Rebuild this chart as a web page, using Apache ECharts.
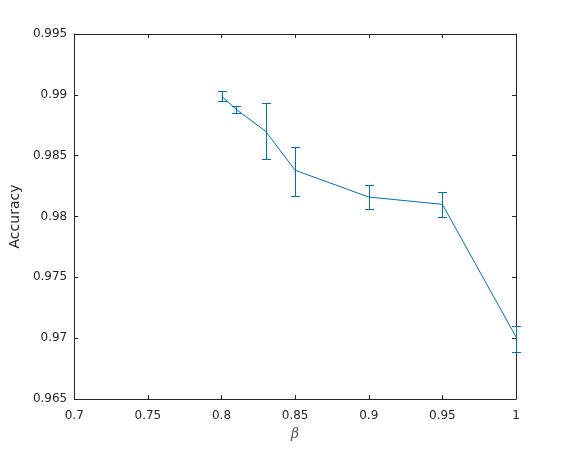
<!DOCTYPE html>
<html>
<head>
<meta charset="utf-8">
<script src="https://cdn.jsdelivr.net/npm/echarts@6/dist/echarts.min.js"></script>
<style>
  html, body { margin: 0; padding: 0; background: #fff; }
  #chart { width: 570px; height: 450px; }
</style>
</head>
<body>
<div id="chart"></div>
<script>
// beta values and measured accuracy with error ranges
const betas = [0.8, 0.81, 0.83, 0.85, 0.9, 0.95, 1.0];
const accuracy = [0.9899, 0.9888, 0.9870, 0.9838, 0.9816, 0.9810, 0.9701];
const errLow = [0.9895, 0.9885, 0.9847, 0.9817, 0.9806, 0.9800, 0.9689];
const errHigh = [0.9903, 0.9891, 0.9893, 0.9857, 0.9826, 0.9820, 0.9710];

const lineColor = '#0072BD';
const textColor = '#262626';

const chart = echarts.init(document.getElementById('chart'));

const fmt = v => String(+v.toFixed(3));

const baseX = {
    type: 'value',
    min: 0.7,
    max: 1,
    interval: 0.05,
    splitLine: { show: false },
    axisLine: { show: true, onZero: false, lineStyle: { color: textColor, width: 1 } },
    axisTick: { show: true, inside: true, length: 4, lineStyle: { color: textColor } },
};
const baseY = {
    type: 'value',
    min: 0.965,
    max: 0.995,
    interval: 0.005,
    splitLine: { show: false },
    axisLine: { show: true, onZero: false, lineStyle: { color: textColor, width: 1 } },
    axisTick: { show: true, inside: true, length: 4, lineStyle: { color: textColor } },
};

const option = {
    animation: false,
    backgroundColor: '#fff',
    grid: { left: 74, right: 54, top: 34, bottom: 51 },
    xAxis: [
        Object.assign({}, baseX, {
            position: 'bottom',
            name: 'β',
            nameLocation: 'middle',
            nameGap: 28,
            nameTextStyle: { color: '#555', fontSize: 14, fontStyle: 'italic', fontFamily: 'DejaVu Serif' },
            axisLabel: { color: textColor, fontSize: 12, fontFamily: 'DejaVu Sans', margin: 11, formatter: fmt },
        }),
        Object.assign({}, baseX, {
            position: 'top',
            axisLabel: { show: false },
        }),
    ],
    yAxis: [
        Object.assign({}, baseY, {
            position: 'left',
            name: 'Accuracy',
            nameLocation: 'middle',
            nameGap: 43,
            nameTextStyle: { color: textColor, fontSize: 14, fontFamily: 'DejaVu Sans' },
            axisLabel: { color: textColor, fontSize: 12, fontFamily: 'DejaVu Sans', margin: 7, formatter: fmt },
        }),
        Object.assign({}, baseY, {
            position: 'right',
            axisLabel: { show: false },
        }),
    ],
    series: [
        {
            type: 'line',
            data: betas.map((b, i) => [b, accuracy[i]]),
            showSymbol: false,
            lineStyle: { color: lineColor, width: 1 },
            itemStyle: { color: lineColor },
            z: 3,
        },
        {
            type: 'custom',
            clip: false,
            data: betas.map((b, i) => [b, errLow[i], errHigh[i]]),
            renderItem: function (params, api) {
                const lo = api.coord([api.value(0), api.value(1)]);
                const hi = api.coord([api.value(0), api.value(2)]);
                const x = Math.round(lo[0]) + 0.5;
                const yLo = Math.round(lo[1]) + 0.5;
                const yHi = Math.round(hi[1]) + 0.5;
                const w = 4.5;
                const style = { stroke: lineColor, lineWidth: 1, fill: null };
                return {
                    type: 'group',
                    children: [
                        { type: 'line', shape: { x1: x, y1: yLo, x2: x, y2: yHi }, style: style },
                        { type: 'line', shape: { x1: x - w, y1: yLo, x2: x + w, y2: yLo }, style: style },
                        { type: 'line', shape: { x1: x - w, y1: yHi, x2: x + w, y2: yHi }, style: style },
                    ]
                };
            },
            z: 4,
        }
    ]
};

chart.setOption(option);
</script>
</body>
</html>
